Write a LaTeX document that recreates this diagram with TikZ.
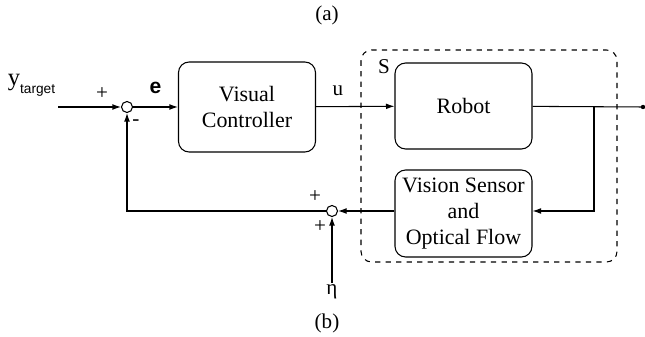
\documentclass[tikz,border=0pt]{standalone}
\usepackage{fontspec}
\setmainfont{Liberation Serif}
\newfontfamily\labsans{Liberation Sans}
\usetikzlibrary{arrows.meta}
\tikzset{
  block/.style={draw, line width=0.6pt, rounded corners=6pt, align=center,
    minimum width=2.74cm, font=\fontsize{12.5}{15}\selectfont},
  summer/.style={draw, circle, line width=0.6pt, minimum size=0.22cm, inner sep=0pt},
  sig/.style={line width=0.6pt, -{Latex[length=1.7mm,width=1.15mm]}},
  wire/.style={line width=0.6pt},
  lab/.style={font=\fontsize{12}{14}\selectfont, inner sep=1pt},
}
\begin{document}
\begin{tikzpicture}[x=0.02cm, y=-0.02cm]
  \useasboundingbox (0,0) rectangle (645,337);
  % captions
  \node[lab] (capa) at (327,15) {(a)};
  \node[lab] (capb) at (327,323) {(b)};
  % plant boundary
  \draw[wire, dashed, rounded corners=6pt] (361,50) rectangle (617,262);
  \node[lab] (slab) at (384,67) {S};
  % blocks
  \node[block, minimum height=1.8cm] (vc) at (247,107) {Visual\\Controller};
  \node[block, minimum height=1.72cm] (robot) at (463.5,106) {Robot};
  \node[block, minimum height=1.74cm, align=center] (vision) at (463.5,213.5)
    {Vision Sensor\\and\\Optical Flow};
  \node[summer] (sum1) at (127,107) {};
  \node[summer] (sum2) at (332,211) {};
  % signal ends
  \coordinate (yin) at (58,107);
  \coordinate (branch) at (594,107);
  \coordinate (out) at (643,107);
  \node[lab] (eta) at (332,292) {η};
  \node[inner sep=0pt] (ylab) at (31.5,85)
    {{\fontsize{14}{14}\selectfont y}\raisebox{-1.0ex}{\labsans\fontsize{7.8}{9}\selectfont target}};
  % connectors
  \draw[sig] (yin) -- (sum1);
  \draw[sig] (sum1) -- (vc) node[midway, above=4pt, font=\labsans\bfseries\fontsize{12}{14}\selectfont] (elab) {e};
  \draw[sig] (vc) -- (robot) node[pos=0.28, above=5pt, lab] (ulab) {u};
  \draw[wire] (robot) -- (out);
  \fill (out) circle (2.2);
  \draw[sig] (branch) |- (vision.east |- 0,211);
  \draw[sig] (vision.west |- 0,211) -- (sum2);
  \draw[sig] (sum2) -| (sum1);
  \draw[sig] (eta.north) -- (sum2);
  % signs
  \node[lab] (p1) at (102,94) {+};
  \node[lab] (m1) at (136,123) {-};
  \node[lab] (p2) at (315,197) {+};
  \node[lab] (p3) at (320,227) {+};
\end{tikzpicture}
\end{document}
